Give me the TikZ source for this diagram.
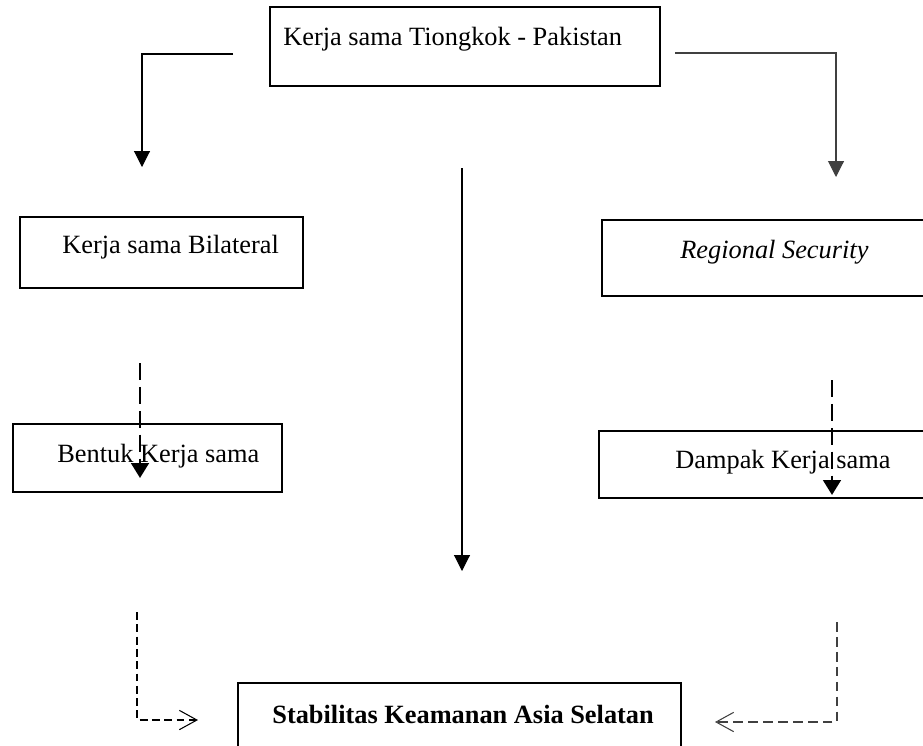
\documentclass[tikz,border=0pt]{standalone}
\usepackage{fontspec}
\setmainfont{Liberation Serif}
\usetikzlibrary{arrows.meta, fit}
\tikzset{
    box/.style = {draw, line width=1.3pt, inner sep=0pt},
    lbl/.style = {inner sep=0pt, anchor=base west, font=\fontsize{15}{18}\selectfont},
    arr/.style = {line width=0.6pt, -{Triangle[length=9pt, width=9pt]}},
    dasharr/.style = {line width=1.6pt, dash pattern=on 9.6pt off 4pt, -{Triangle[length=8.5pt, width=10pt]}},
    thinarr/.style = {line width=0.6pt, dash pattern=on 4.5pt off 2.5pt, -{Straight Barb[length=10pt, width=11pt]}}
}

\begin{document}
\begin{tikzpicture}[x=0.02cm, y=-0.02cm]
    \useasboundingbox (0,0) rectangle (923,745);
    \clip (0,0) rectangle (923,745);
    \node[box, fit={(270,7) (660,86)}] (kerja) {};
    \node[box, fit={(20,217) (303,288)}] (bilateral) {};
    \node[box, fit={(602,220) (935,296)}] (regional) {};
    \node[box, fit={(13,424) (282,492)}] (bentuk) {};
    \node[box, fit={(599,431) (935,498)}] (dampak) {};
    \node[box, fit={(238,683) (681,765)}] (stabilitas) {};
    \node[lbl] (kerjaT) at (283,45) {Kerja sama Tiongkok - Pakistan};
    \node[lbl] (bilateralT) at (62,253) {Kerja sama Bilateral};
    \node[lbl] (regionalT) at (680,258) {\itshape Regional Security};
    \node[lbl] (bentukT) at (57,462) {Bentuk Kerja sama};
    \node[lbl] (dampakT) at (675,468) {Dampak Kerja sama};
    \node[lbl] (stabilitasT) at (272,723) {\bfseries Stabilitas Keamanan Asia Selatan};
    \coordinate (kL) at (233,54);
    \coordinate (kR) at (675,53);
    \coordinate (bilTip) at (142,167);
    \coordinate (regTip) at (836,177);
    \coordinate (midS) at (462,168);
    \coordinate (midE) at (462,571);
    \coordinate (bilS) at (140,363);
    \coordinate (bilE) at (140,478);
    \coordinate (regS) at (832,380);
    \coordinate (regE) at (832,495);
    \coordinate (bentS) at (137,612);
    \coordinate (bentE) at (198,720);
    \coordinate (dampS) at (837,622);
    \coordinate (dampE) at (715,722);
    \draw[arr] (kL) -| (bilTip);
    \draw[arr, draw=black!75] (kR) -| (regTip);
    \draw[arr] (midS) -- (midE);
    \draw[dasharr] (bilS) -- (bilE);
    \draw[dasharr] (regS) -- (regE);
    \draw[thinarr] (bentS) |- (bentE);
    \draw[thinarr, draw=black!75, dash pattern=on 5.5pt off 3pt] (dampS) |- (dampE);
\end{tikzpicture}
\end{document}
